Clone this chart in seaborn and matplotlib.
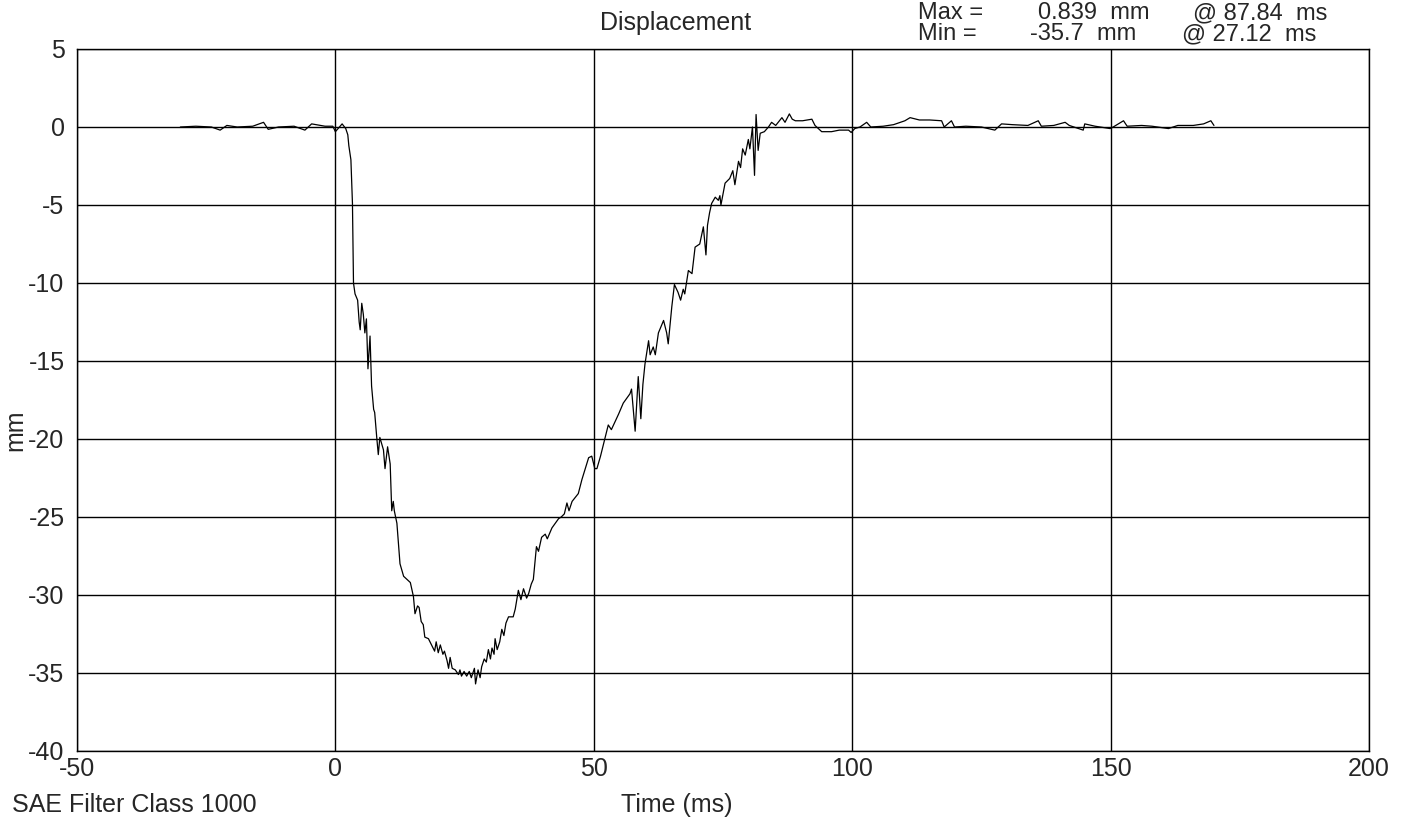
import matplotlib
matplotlib.use("Agg")
import matplotlib.pyplot as plt
import seaborn as sns
import pandas as pd

# 시간(ms) / 변위(mm) - 그림에서 읽은 값
time_ms = [-30, -27, -24, -22.3, -21, -19, -16, -13.9, -13, -11, -8, -5.9, -4.6, -2, -0.5, 0, 1.3, 2.0,
           2.4, 2.6, 3.0, 3.3, 3.5, 3.8, 4.3, 4.6, 4.8, 5.1, 5.4, 5.7, 6.0, 6.3, 6.7, 7.0, 7.4, 7.6,
           8.0, 8.3, 8.6, 9.3, 9.6, 10.1, 10.6, 10.9, 11.2, 11.4, 11.9, 12.2, 12.5, 13.2, 14.5, 15.1,
           15.4, 15.9, 16.2, 16.6, 17.0, 17.3, 18.0, 18.6, 19.2, 19.5, 19.9, 20.3, 20.8, 21.1, 21.6,
           21.9, 22.2, 22.6, 23.2, 23.8, 24.1, 24.4, 24.9, 25.4, 25.9, 26.3, 26.9, 27.12, 27.6, 28.0,
           28.3, 28.8, 29.2, 29.6, 30.0, 30.3, 30.7, 30.9, 31.3, 31.8, 32.2, 32.6, 33.0, 33.5, 34.4,
           34.8, 35.4, 35.9, 36.4, 37.0, 37.4, 37.9, 38.3, 38.9, 39.3, 39.9, 40.6, 41.0, 41.9, 43.2,
           43.7, 44.3, 44.8, 45.2, 45.8, 47.0, 47.7, 49.0, 49.6, 50.2, 50.6, 51.3, 52.2, 52.8, 53.4,
           54.8, 55.7, 57.0, 57.3, 58.0, 58.6, 59.1, 59.5, 59.9, 60.6, 60.9, 61.5, 61.9, 62.5, 63.5,
           64.1, 64.4, 65.1, 65.6, 66.3, 66.8, 67.3, 67.6, 68.3, 69.0, 69.6, 70.5, 71.2, 71.7, 72.0,
           72.4, 72.8, 73.5, 74.1, 74.4, 74.6, 75.4, 76.3, 76.9, 77.3, 78.0, 78.4, 78.8, 79.3, 79.9,
           80.2, 80.7, 81.1, 81.4, 81.8, 82.2, 83.0, 83.8, 84.4, 85.2, 86.4, 87.0, 87.84, 88.4, 89.0,
           90.4, 92.2, 92.8, 94.1, 96.0, 97.5, 99.3, 99.8, 100.5, 101.5, 102.8, 103.6, 106, 108,
           110.2, 111.2, 113, 115, 117.3, 117.8, 119.2, 119.8, 122, 125, 127.6, 128.9, 131, 134,
           136, 136.6, 139, 141.2, 142, 144.7, 145, 147, 149.9, 150.5, 152.5, 153.2, 156, 158,
           161.2, 163, 166, 168, 169.4, 170]
disp_mm = [0.0, 0.05, 0.0, -0.2, 0.1, 0.0, 0.05, 0.3, -0.15, 0.0, 0.05, -0.2, 0.2, 0.05, 0.05, -0.3, 0.2, -0.1,
           -0.5, -1.2, -2.1, -4.9, -10.0, -10.7, -11.1, -12.5, -13.0, -11.3, -12.0, -13.2, -12.3, -15.5, -13.4, -16.6, -18.1, -18.3,
           -19.9, -21.0, -19.9, -20.7, -21.9, -20.5, -21.6, -24.6, -24.0, -24.6, -25.4, -26.7, -28.0, -28.8, -29.2, -30.1,
           -31.2, -30.7, -30.8, -31.7, -31.9, -32.7, -32.8, -33.2, -33.6, -33.0, -33.7, -33.2, -33.8, -33.6, -34.2,
           -34.7, -34.0, -34.7, -34.8, -35.1, -34.8, -35.2, -34.9, -35.2, -34.9, -35.3, -34.7, -35.7, -34.8, -35.3,
           -34.6, -34.1, -34.3, -33.5, -34.1, -33.4, -33.8, -32.8, -33.5, -33.0, -32.2, -32.6, -31.8, -31.4, -31.4,
           -30.9, -29.7, -30.3, -29.6, -30.2, -29.9, -29.3, -29.0, -26.9, -27.2, -26.3, -26.1, -26.4, -25.7, -25.1,
           -25.0, -24.8, -24.1, -24.6, -24.0, -23.5, -22.6, -21.2, -21.1, -21.9, -21.9, -21.1, -19.9, -19.1, -19.4,
           -18.4, -17.7, -17.1, -16.8, -19.5, -16.0, -18.7, -16.5, -15.2, -13.7, -14.6, -14.1, -14.6, -13.2, -12.4,
           -13.2, -13.9, -11.5, -10.1, -10.6, -11.1, -10.4, -10.7, -9.2, -9.4, -7.7, -7.5, -6.4, -8.2, -6.3,
           -5.5, -4.9, -4.5, -4.7, -4.4, -5.0, -3.6, -3.3, -2.8, -3.7, -2.2, -2.6, -1.4, -1.8, -0.8,
           -1.4, 0.0, -3.1, 0.8, -1.5, -0.4, -0.3, 0.0, 0.3, 0.1, 0.6, 0.3, 0.839, 0.5, 0.4,
           0.4, 0.5, 0.1, -0.3, -0.3, -0.2, -0.2, -0.35, -0.1, 0.0, 0.3, 0.0, 0.05, 0.15,
           0.4, 0.6, 0.45, 0.45, 0.4, 0.0, 0.4, 0.0, 0.05, 0.0, -0.2, 0.2, 0.15, 0.1,
           0.4, 0.05, 0.1, 0.3, 0.1, -0.2, 0.2, 0.05, -0.1, 0.0, 0.4, 0.05, 0.1, 0.05,
           -0.1, 0.1, 0.1, 0.2, 0.4, 0.1]

x_ticks = [-50, 0, 50, 100, 150, 200]
y_ticks = [5, 0, -5, -10, -15, -20, -25, -30, -35, -40]

df = pd.DataFrame({'t': time_ms, 'd': disp_mm})

sns.set_style('white')
plt.rcParams['font.family'] = ['Liberation Sans', 'DejaVu Sans']
plt.rcParams['axes.unicode_minus'] = False

fig = plt.figure(figsize=(14.04, 8.25), dpi=100)
ax = fig.add_axes([77/1404, 1-751/825, 1292/1404, 702/825])

sns.lineplot(data=df, x='t', y='d', ax=ax, color='black', lw=0.9, estimator=None, sort=False)

ax.set_xlim(-50, 200)
ax.set_ylim(-40, 5)
ax.set_xticks(x_ticks)
ax.set_yticks(y_ticks)
ax.set_xticklabels([str(v) for v in x_ticks], fontsize=18)
ax.set_yticklabels([str(v) for v in y_ticks], fontsize=18)
ax.tick_params(length=0)
ax.tick_params(axis='y', pad=9)
ax.tick_params(axis='x', pad=4)
ax.grid(True, color='black', lw=1.0)
for s in ax.spines.values():
    s.set_color('black')
    s.set_linewidth(1.0)
ax.set_xlabel('')
ax.set_ylabel('')

# 제목, 라벨, 최대/최소 텍스트
fig.text(676/1404, 1-23/825, 'Displacement', fontsize=18, ha='center', va='center')
fig.text(15/1404, 1-430/825, 'mm', fontsize=18, rotation=90, ha='center', va='center')
fig.text(677/1404, 1-805/825, 'Time (ms)', fontsize=18, ha='center', va='center')
fig.text(12/1404, 1-805/825, 'SAE Filter Class 1000', fontsize=18, ha='left', va='center')

# Max 줄은 위쪽이 잘리지 않도록 살짝 내림
fig.text(918/1404, 1-19/825, 'Max =', fontsize=17, ha='left', va='baseline')
fig.text(1038/1404, 1-19/825, '0.839  mm', fontsize=17, ha='left', va='baseline')
fig.text(1193/1404, 1-19/825, '@ 87.84  ms', fontsize=17, ha='left', va='baseline')
fig.text(918/1404, 1-40/825, 'Min =', fontsize=17, ha='left', va='baseline')
fig.text(1030/1404, 1-40/825, '-35.7  mm', fontsize=17, ha='left', va='baseline')
fig.text(1182/1404, 1-40/825, '@ 27.12  ms', fontsize=17, ha='left', va='baseline')

plt.savefig('out.png', dpi=100)
